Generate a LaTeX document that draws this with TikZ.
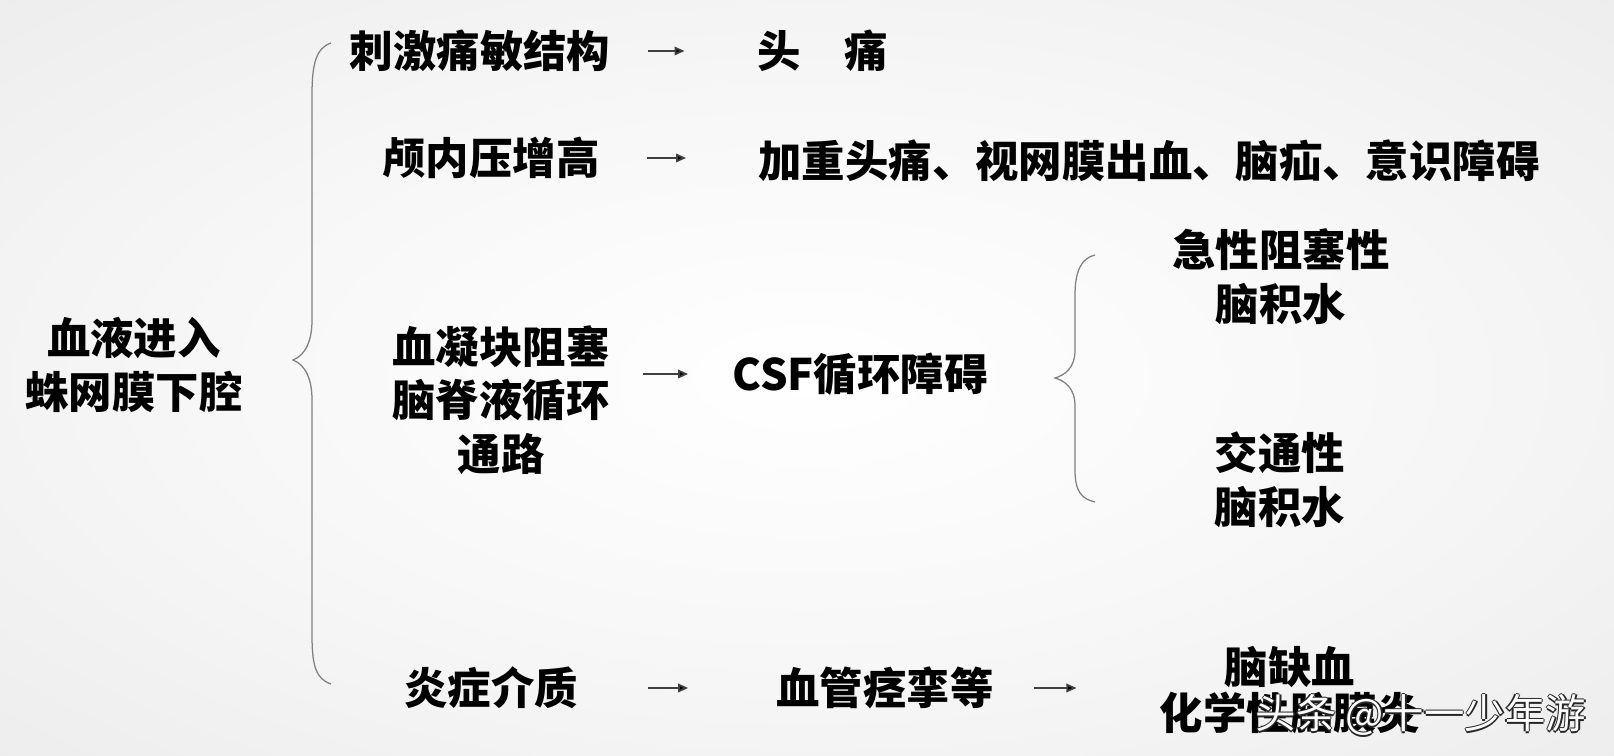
\documentclass[tikz,border=0pt]{standalone}
\usepackage{fontspec}
\newfontfamily\cjk{Noto Sans CJK SC}
\usetikzlibrary{arrows.meta,calc}

\pgfdeclareradialshading{glow}{\pgfpoint{0bp}{0bp}}{color(0bp)=(white); color(18bp)=(white!97!black); color(40bp)=(white!92!black); color(50bp)=(white!89!black); color(72bp)=(white!84!black)}

\begin{document}
\begin{tikzpicture}[
  x=0.02cm, y=-0.02cm,
  every node/.style={font=\cjk\bfseries\fontsize{24.7}{30.5}\selectfont, inner sep=0pt, align=center},
  wm/.style={font=\cjk\fontsize{23}{27}\selectfont},
  arr/.style={draw=black!75, line width=0.035cm, -{Triangle[length=0.2cm,width=0.17cm,fill=black]}},
  brace/.style={draw=black!50, line width=0.025cm}
]

% Background
\shade[shading=glow] (0,0) rectangle (1614,756);
\useasboundingbox (0,0) rectangle (1614,756);

% Left column
\node (blood) at (134,365) {血液进入\\蛛网膜下腔};

% Causes
\node (pain) at (480,51) {刺激痛敏结构};
\node (icp) at (491,158) {颅内压增高};
\node (clot) at (501,400) {血凝块阻塞\\脑脊液循环\\通路};
\node (infl) at (491,688) {炎症介质};

% Effects
\node (head) at (823,51) {头　痛};
\node (worse) at (1149,161) {加重头痛、视网膜出血、脑疝、意识障碍};
\node (csf) at (860,374) {CSF循环障碍};
\node (spasm) at (885,688) {血管痉挛等};
\node (acute) at (1281,277) {急性阻塞性\\脑积水};
\node (comm) at (1280,480) {交通性\\脑积水};
\node (isch) at (1290,690) {脑缺血\\[-0.16cm]化学性脑膜炎};

% Arrows
\draw[arr, shorten <=0.74cm, shorten >=1.46cm] (pain) -- (pain -| head.west);
\draw[arr, shorten <=0.94cm, shorten >=1.44cm] (icp) -- (icp -| worse.west);
\draw[arr, shorten <=0.66cm, shorten >=0.88cm] (clot.east |- csf) -- (csf.west);
\draw[arr, shorten <=1.4cm, shorten >=1.76cm] (infl) -- (infl -| spasm.west);
\draw[arr, shorten <=0.8cm, shorten >=1.66cm] (spasm) -- (spasm -| isch.west);

% Braces
\coordinate (bigTop) at (331,43);
\coordinate (bigTip) at (293,360);
\coordinate (bigBot) at (331,684);
\draw[brace] (bigTop) .. controls (316,48) and (312,64) .. (312,95) -- (312,320)
  .. controls (312,345) and (303,356) .. (bigTip)
  .. controls (303,364) and (312,375) .. (312,400) -- (312,635)
  .. controls (312,666) and (316,679) .. (bigBot);

\coordinate (smTop) at (1095,255);
\coordinate (smTip) at (1055,378);
\coordinate (smBot) at (1095,502);
\draw[brace] (smTop) .. controls (1082,258) and (1075,270) .. (1075,295) -- (1075,350)
  .. controls (1075,368) and (1065,375) .. (smTip)
  .. controls (1065,381) and (1075,388) .. (1075,406) -- (1075,470)
  .. controls (1075,492) and (1082,499) .. (smBot);

% Watermark
\foreach \dx/\dy [count=\k] in {-1.5/0,1.5/0,0/-1.5,0/1.5}
  \node[wm, text=black!85] (wmS\k) at (1421+\dx,715+\dy) {头条 @十一少年游};
\node[wm, text=white] (wm) at (1421,715) {头条 @十一少年游};
\end{tikzpicture}
\end{document}
